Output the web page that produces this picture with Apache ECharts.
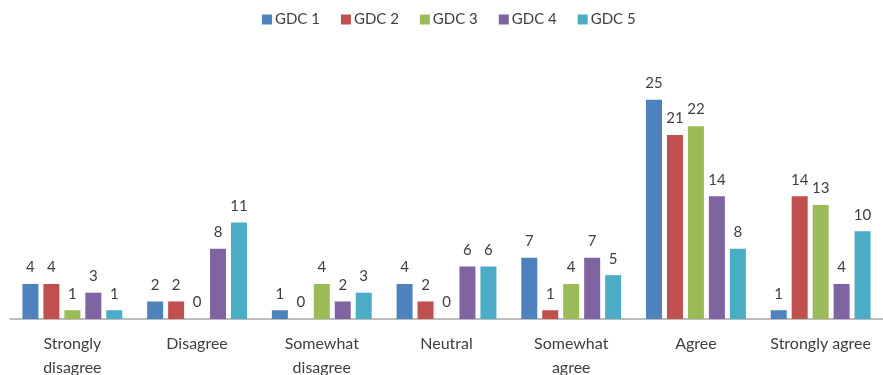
<!DOCTYPE html>
<html>
<head>
<meta charset="utf-8">
<script src="https://cdn.jsdelivr.net/npm/echarts@6/dist/echarts.min.js"></script>
<style>
  html, body { margin: 0; padding: 0; background: #fff; }
  #chart { width: 883px; height: 375px; }
</style>
</head>
<body>
<div id="chart"></div>
<script>
// Survey response categories
const categories = ['Strongly\ndisagree', 'Disagree', 'Somewhat\ndisagree', 'Neutral', 'Somewhat\nagree', 'Agree', 'Strongly agree'];

// Response counts per group
const gdc1 = [4, 2, 1, 4, 7, 25, 1];
const gdc2 = [4, 2, 0, 2, 1, 21, 14];
const gdc3 = [1, 0, 4, 0, 4, 22, 13];
const gdc4 = [3, 8, 2, 6, 7, 14, 4];
const gdc5 = [1, 11, 3, 6, 5, 8, 10];

const seriesNames = ['GDC 1', 'GDC 2', 'GDC 3', 'GDC 4', 'GDC 5'];
const seriesData = [gdc1, gdc2, gdc3, gdc4, gdc5];
const colors = ['#4F81BD', '#C0504D', '#9BBB59', '#8064A2', '#4BACC6'];

const font = 'Lato, "Open Sans", sans-serif';
const chart = echarts.init(document.getElementById('chart'));

chart.setOption({
  animation: false,
  color: colors,
  textStyle: { fontFamily: font },
  legend: {
    top: 7,
    left: 257,
    itemWidth: 10,
    itemHeight: 10,
    itemGap: 21,
    icon: 'rect',
    textStyle: { fontSize: 15, color: '#404040', fontFamily: font, padding: [0, 0, 0, -2] },
    data: seriesNames
  },
  grid: { left: 10, right: 0, top: 56, bottom: 56, containLabel: false, outerBoundsMode: 'none' },
  xAxis: {
    type: 'category',
    data: categories,
    axisLine: { lineStyle: { color: '#A6A6A6', width: 1.5 } },
    axisTick: { show: false },
    axisLabel: {
      interval: 0,
      margin: 13,
      fontSize: 16,
      lineHeight: 24,
      color: '#404040',
      fontFamily: font
    }
  },
  yAxis: {
    type: 'value',
    min: 0,
    max: 30,
    show: false,
    splitLine: { show: false }
  },
  series: seriesNames.map((name, i) => ({
    name: name,
    type: 'bar',
    data: seriesData[i],
    barWidth: 16,
    barGap: '31%',
    label: {
      show: true,
      position: 'top',
      distance: 9,
      fontSize: 15,
      color: '#404040',
      fontFamily: font
    }
  }))
});
</script>
</body>
</html>
